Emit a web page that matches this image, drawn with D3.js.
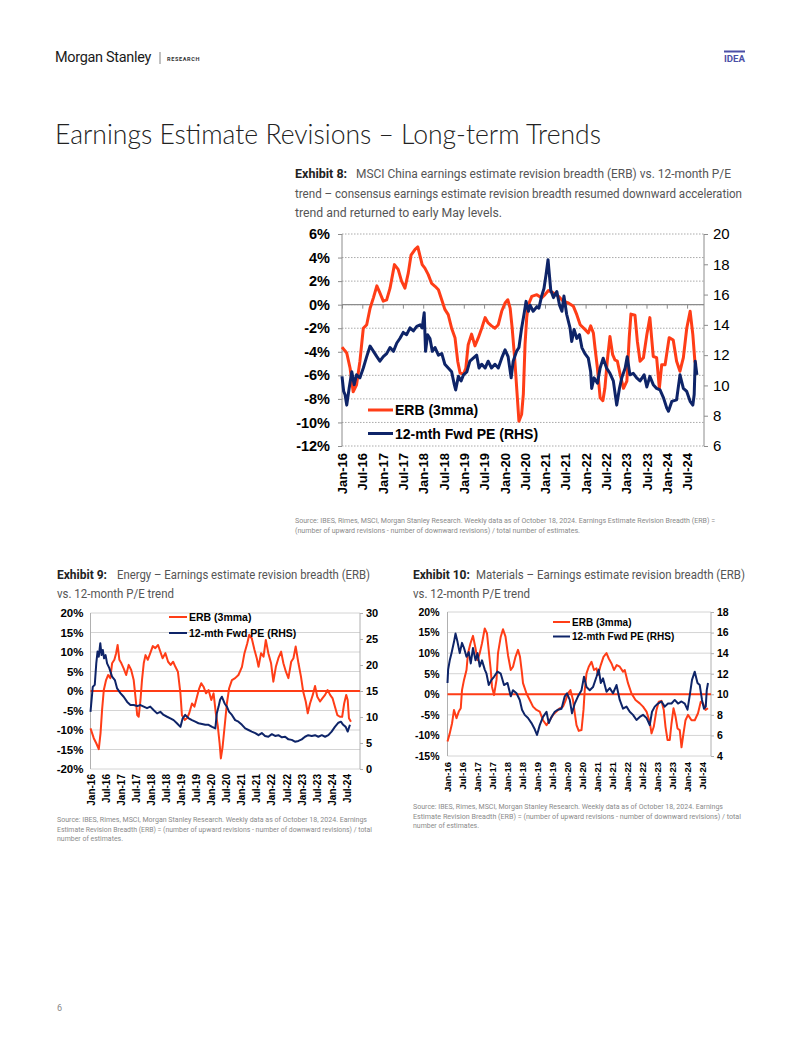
<!DOCTYPE html>
<html><head><meta charset="utf-8">
<script src="https://cdn.jsdelivr.net/npm/d3@7"></script>
<style>
html,body{margin:0;padding:0;background:#fff;}
svg{display:block;}
</style></head><body>
<svg id="page" width="802" height="1037"></svg>
<script>
// ---------- DATA (x = months since Jan-2016, y = value) ----------
const xLabels = ["Jan-16","Jul-16","Jan-17","Jul-17","Jan-18","Jul-18","Jan-19","Jul-19","Jan-20","Jul-20","Jan-21","Jul-21","Jan-22","Jul-22","Jan-23","Jul-23","Jan-24","Jul-24"];
const xLabelMonths = [0,6,12,18,24,30,36,42,48,54,60,66,72,78,84,90,96,102];

// Exhibit 8: MSCI China
const erbChina = [[0,-3.6],[1.4,-4.1],[2.4,-5.4],[3.3,-7.4],[4.3,-6.8],[5.3,-4.8],[6.3,-2.0],[7.3,-1.7],[8.3,-0.3],[9.3,0.6],[10.3,1.6],[11.2,1.0],[12.2,0.3],[13.2,0.4],[14.2,1.4],[15.5,3.4],[16.6,3.0],[17.6,2.0],[18.6,1.4],[19.6,2.7],[20.4,4.2],[21.6,4.7],[22.4,4.9],[23,4.2],[23.7,3.4],[24.5,3.1],[25.5,2.55],[26.5,1.8],[27.5,1.56],[28.5,1.27],[29.5,0.4],[30.4,-0.4],[31.4,-0.85],[32.4,-2.0],[33.4,-2.8],[34.2,-4.8],[34.9,-5.8],[35.9,-5.9],[36.6,-5.4],[37.3,-3.4],[38.3,-2.5],[39.3,-3.5],[40.3,-2.8],[41.3,-2.0],[42.3,-1.1],[43.2,-1.55],[44.2,-1.8],[45.2,-2.0],[46.2,-1.7],[47.2,-0.56],[48.2,0.14],[49,0.42],[49.7,-0.3],[50.3,-2.0],[51.1,-4.8],[51.9,-8.2],[52.3,-9.9],[53.1,-9.3],[53.6,-7.6],[54.1,-3.4],[54.6,-1.1],[55.1,0.0],[56.1,0.7],[57.6,0.85],[59,0.57],[60,0.85],[61,1.2],[62.5,1.0],[64,0.7],[65.4,0.29],[66.9,0.14],[68.4,-0.14],[69.4,-0.85],[70.4,-1.7],[71.8,-2.1],[72.8,-2.4],[73.5,-1.8],[74.3,-2.4],[74.8,-3.7],[75.5,-5.4],[76.3,-7.9],[77.1,-8.15],[77.7,-7.1],[78.4,-4.8],[79.2,-2.7],[80,-4.25],[80.7,-4.7],[81.4,-4.8],[82.2,-5.9],[83.2,-7.1],[84.2,-6.5],[84.9,-2.8],[85.4,-0.8],[86.6,-0.9],[87.3,-3.1],[88.1,-4.8],[89.1,-4.5],[90.1,-2.55],[91,-1.1],[92,-4.4],[93,-4.5],[93.8,-7.1],[94.5,-5.1],[95.5,-5.1],[96.7,-2.8],[97.9,-3.0],[98.9,-4.8],[99.9,-5.65],[100.9,-4.5],[101.9,-2.0],[102.9,-0.56],[103.7,-2.55],[104.3,-4.8],[104.6,-5.1]];
const peChina = [[0,10.6],[0.5,9.6],[0.9,9.4],[1.4,8.7],[2.1,9.8],[2.9,10.9],[3.6,10.05],[4.3,10.7],[5.3,10.5],[6.3,11.15],[7.3,11.9],[8.3,12.6],[9.3,12.25],[10.3,11.9],[11.2,11.6],[12.2,11.9],[13.2,12.1],[14.2,12.5],[15.2,12.25],[16.2,12.8],[17.1,13.1],[18.1,13.5],[19.1,13.35],[20.1,13.8],[21.1,13.6],[22.1,13.9],[23.1,14.0],[23.7,13.8],[24.3,14.8],[24.7,12.25],[25.3,13.35],[26,13.1],[26.7,12.25],[27.5,12.5],[28.5,12.0],[29.5,12.1],[30.4,11.4],[31.4,11.15],[32.4,10.9],[33.2,10.05],[33.6,9.7],[34.4,10.6],[35.2,10.3],[35.9,10.7],[36.9,10.9],[37.8,11.6],[38.8,11.8],[39.8,12.0],[40.5,11.15],[41.3,11.4],[42.3,11.15],[43.2,11.6],[44.2,11.15],[45.2,11.4],[46.2,11.15],[47.2,11.8],[48.2,12.35],[49.1,11.9],[50,10.5],[50.6,11.6],[51.6,12.25],[52.3,12.5],[53.1,13.8],[53.8,14.7],[54.4,15.55],[55.1,14.9],[55.6,15.3],[56.5,14.9],[57.6,15.2],[58.2,15.1],[59,15.9],[59.7,16.4],[60.3,17.3],[60.9,18.3],[61.3,17.3],[61.7,16.3],[62.5,15.8],[63.5,16.2],[64.3,15.3],[65,14.9],[65.6,15.9],[66.4,14.7],[67.4,13.8],[67.9,12.9],[68.6,13.7],[69.4,13.1],[70.2,13.35],[70.9,12.5],[71.8,12.1],[72.8,11.8],[73.5,10.9],[73.8,9.8],[74.5,10.5],[75.5,10.15],[76.3,11.15],[77.2,11.8],[78.2,11.15],[79.2,10.8],[80.2,10.3],[81.2,8.7],[82,9.8],[82.7,10.5],[83.7,11.15],[84.3,11.9],[85.1,10.7],[86.1,10.8],[87.1,10.5],[88.1,10.3],[89.3,10.7],[90.1,9.9],[91,10.6],[92,10.05],[93,9.8],[94,9.7],[95,9.2],[96,8.5],[96.5,8.3],[97.5,8.95],[98.9,9.05],[99.9,10.7],[100.9,9.8],[101.9,9.6],[102.9,8.95],[103.7,8.7],[104.1,9.4],[104.4,11.6],[104.9,10.7]];

// Exhibit 9: Energy
const erbEnergy = [[0,-9.6],[1.3,-12.1],[2.3,-13.4],[3.3,-14.9],[4.0,-10.8],[4.6,-4.9],[5.3,0.25],[6.2,2.8],[7.0,4.1],[7.9,3.3],[8.6,7.1],[9.5,8.0],[10.2,9.7],[10.8,11.8],[11.5,8.0],[12.3,7.1],[13.2,5.8],[14.2,4.1],[15.2,6.7],[16.2,5.4],[17.2,2.8],[17.9,-1.5],[18.6,-6.2],[19.2,-6.6],[19.9,-2.3],[20.5,2.8],[21.2,7.1],[21.9,9.2],[22.8,8.0],[23.8,9.7],[24.8,11.5],[25.8,11.0],[26.9,11.8],[27.8,10.1],[28.7,8.4],[29.8,9.7],[30.9,7.5],[31.9,6.7],[32.9,7.5],[33.8,6.2],[34.8,4.95],[35.8,-0.6],[36.4,-6.2],[37.5,-7.4],[38.4,-7.0],[39.3,-5.7],[40.4,-3.2],[41.4,-4.0],[42.4,-1.5],[43.3,0.7],[44.1,2.0],[45.0,1.1],[46.0,-0.6],[47.0,0.25],[48.1,-2.3],[49.0,-0.6],[49.9,-5.7],[50.7,-9.1],[51.4,-13.4],[51.9,-17.3],[52.6,-14.3],[53.4,-9.1],[54.3,-3.2],[55.2,0.7],[56.3,2.8],[57.6,3.3],[58.9,4.1],[60.3,6.2],[61.3,9.7],[62.4,12.2],[63.2,14.4],[64.2,13.5],[65.3,10.5],[66.2,8.4],[66.9,6.2],[67.9,9.7],[68.9,8.8],[69.8,13.1],[70.8,9.7],[71.9,7.1],[72.8,2.4],[73.8,6.2],[74.8,8.4],[75.9,10.1],[76.8,7.1],[77.8,4.95],[78.8,3.3],[79.9,7.5],[80.8,8.4],[81.7,11.4],[82.8,7.1],[83.8,3.7],[84.7,-0.2],[85.7,-2.7],[86.5,-5.7],[87.4,-3.2],[88.5,-1.0],[89.4,1.3],[90.3,-1.5],[91.4,-2.7],[92.3,-1.9],[93.4,-1.0],[94.4,0.25],[95.4,-1.0],[96.4,-1.9],[97.3,-4.0],[98.3,-6.2],[99.3,-6.6],[100.2,-6.6],[101.0,-3.2],[101.8,-1.0],[102.4,-2.3],[102.9,-7.0],[103.7,-7.9]];
const peEnergy = [[0,11.0],[0.9,15.8],[1.7,16.2],[2.3,20.3],[2.8,22.6],[3.3,21.6],[3.9,24.2],[4.4,21.9],[4.9,22.9],[5.4,21.3],[6.0,21.9],[6.6,20.3],[7.5,19.4],[8.6,17.75],[9.7,17.1],[10.6,15.5],[11.9,14.6],[13.2,13.9],[14.6,12.9],[15.9,12.3],[17.2,12.3],[18.6,12.1],[19.9,12.3],[21.2,12.0],[22.5,11.7],[23.8,12.0],[25.1,11.35],[26.5,10.7],[27.8,11.0],[29.1,10.4],[30.5,10.05],[31.8,9.75],[33.1,9.4],[34.4,8.8],[35.8,8.1],[36.7,9.75],[37.7,10.4],[39.1,9.75],[40.4,9.4],[41.7,9.1],[43.0,8.8],[44.4,8.65],[45.7,8.5],[47.0,8.5],[48.4,8.1],[49.7,7.8],[50.3,10.7],[51.0,12.0],[51.6,13.3],[52.3,13.9],[53.4,12.6],[54.3,12.0],[55.2,11.0],[56.3,10.4],[57.6,9.4],[58.9,9.1],[60.3,8.5],[61.6,7.8],[62.9,7.5],[64.2,7.2],[65.6,6.9],[66.9,6.5],[68.2,6.9],[69.5,6.35],[70.8,6.2],[72.2,6.7],[73.5,6.35],[74.8,6.5],[76.2,6.1],[77.5,6.2],[78.8,5.7],[80.1,5.6],[81.4,5.25],[82.8,5.4],[84.1,5.7],[85.4,6.2],[86.7,6.5],[88.1,6.35],[89.4,6.5],[90.7,6.2],[92.1,6.5],[93.4,6.2],[94.7,6.5],[96.0,7.2],[97.3,8.1],[98.7,8.9],[99.7,9.1],[100.6,8.5],[101.6,8.1],[102.4,7.2],[103.3,8.5]];

// Exhibit 10: Materials
const erbMaterials = [[0,-11.5],[0.9,-9.5],[1.8,-7.1],[2.6,-3.8],[3.6,-5.8],[4.5,-4.2],[5.3,-3.4],[5.8,1.0],[6.6,3.5],[7.6,5.9],[8.2,10.0],[9.2,12.4],[10.2,14.2],[11.2,11.2],[12.0,8.3],[12.9,10.0],[13.8,12.4],[14.9,16.0],[15.8,14.8],[16.6,10.0],[17.3,5.9],[17.8,1.8],[18.6,-0.2],[19.6,3.5],[20.2,10.0],[21.3,14.0],[22.2,15.8],[23.2,14.0],[24.2,9.5],[25.3,5.9],[26.2,6.7],[27.2,9.1],[28.2,10.8],[29.0,9.1],[29.8,5.1],[30.2,2.7],[31.6,0.2],[32.9,-1.4],[34.2,-3.0],[35.6,-3.8],[36.9,-4.2],[38.2,-6.3],[39.6,-7.5],[40.9,-6.3],[42.2,-5.0],[43.6,-4.2],[44.9,-3.4],[46.2,-3.0],[47.3,-1.4],[48.2,0.2],[49.2,1.0],[50.2,-1.4],[50.9,-4.6],[51.6,-7.5],[52.5,-8.9],[53.6,-8.7],[54.4,-3.8],[54.9,1.0],[55.6,5.1],[56.5,6.7],[57.6,7.9],[58.6,5.9],[59.6,6.3],[60.2,4.7],[61.3,7.1],[62.4,9.1],[63.6,10.0],[64.5,8.7],[65.6,7.5],[66.6,5.9],[67.7,7.1],[68.9,6.7],[70.2,5.5],[70.9,5.9],[72.2,2.7],[73.6,0.2],[75.2,-1.4],[76.9,-2.2],[78.2,-3.0],[79.6,-4.2],[80.9,-6.7],[81.6,-9.5],[82.5,-7.9],[83.6,-3.8],[84.5,-1.8],[85.6,-1.6],[86.5,-3.8],[87.2,-7.9],[88.0,-11.1],[88.9,-11.1],[89.6,-7.1],[90.4,-3.4],[91.2,-5.4],[92.0,-8.3],[92.9,-8.7],[93.6,-12.9],[94.4,-9.5],[95.2,-6.3],[96.2,-5.0],[97.6,-6.3],[98.9,-6.3],[100.2,-4.6],[101.3,-1.8],[102.2,-2.2],[103.2,-3.8],[104.2,-3.4]];
const peMaterials = [[0,11.1],[0.25,12.4],[0.9,13.3],[1.6,14.0],[2.6,15.1],[3.2,15.9],[4.0,15.1],[4.9,14.0],[5.8,15.0],[6.6,14.5],[7.6,13.65],[8.5,14.1],[9.3,13.0],[10.2,14.5],[11.2,13.3],[12.0,14.0],[12.9,12.7],[13.8,13.3],[14.9,12.4],[15.6,12.0],[16.5,10.9],[17.6,11.4],[18.6,11.7],[20.0,12.2],[21.3,12.0],[22.6,10.9],[24.0,11.1],[25.3,9.8],[26.2,10.4],[27.6,10.1],[28.9,9.45],[29.8,8.5],[30.9,8.0],[32.2,7.7],[33.6,7.2],[34.9,6.6],[35.8,6.05],[36.9,7.0],[38.2,7.8],[39.6,8.3],[40.5,7.2],[41.6,7.8],[42.9,8.3],[44.2,8.5],[45.6,8.6],[46.9,9.8],[47.8,10.1],[48.9,9.45],[49.8,8.15],[50.9,9.1],[52.2,9.8],[53.6,10.4],[54.6,11.7],[55.6,10.7],[56.9,10.4],[58.2,10.7],[59.6,11.7],[60.5,12.4],[61.3,11.1],[62.2,11.55],[63.6,10.25],[64.9,10.6],[66.2,10.1],[67.6,10.9],[68.9,9.45],[70.2,8.6],[71.6,8.8],[72.9,8.3],[74.2,8.0],[75.6,7.5],[76.9,7.8],[78.2,8.0],[79.6,7.7],[80.9,7.0],[81.8,8.3],[82.9,8.8],[84.2,9.1],[85.6,9.3],[86.9,8.8],[88.2,9.1],[89.6,9.1],[90.9,9.45],[92.2,9.1],[93.6,9.3],[94.9,9.1],[96.0,8.5],[96.9,9.9],[97.8,11.4],[98.9,12.2],[100.0,11.1],[100.9,10.9],[101.8,9.45],[102.6,8.6],[103.3,8.8],[103.7,10.4],[104.2,11.1]];

const seriesNames = ["ERB (3mma)", "12-mth Fwd PE (RHS)"];
const chinaLeftTicks = [-12,-10,-8,-6,-4,-2,0,2,4,6];
const chinaRightTicks = [6,8,10,12,14,16,18,20];
const energyLeftTicks = [-20,-15,-10,-5,0,5,10,15,20];
const energyRightTicks = [0,5,10,15,20,25,30];
const materialsLeftTicks = [-15,-10,-5,0,5,10,15,20];
const materialsRightTicks = [4,6,8,10,12,14,16,18];

// ---------- STYLE ----------
const RED = "#ff3d17", NAVY = "#0e2468";
const ARIAL = "'Liberation Sans', Arial, sans-serif";
const BODY = "Roboto, 'Noto Sans', sans-serif";

const svg = d3.select("#page");
svg.append("rect").attr("width",802).attr("height",1037).attr("fill","#fff");

function txt(x, y, s, o) {
  const t = svg.append("text").attr("x", x).attr("y", y).text(s)
    .attr("font-family", o.family || BODY).attr("font-size", o.size)
    .attr("fill", o.fill || "#222");
  if (o.weight) t.attr("font-weight", o.weight);
  if (o.anchor) t.attr("text-anchor", o.anchor);
  if (o.ls) t.attr("letter-spacing", o.ls);
  if (o.len) t.attr("textLength", o.len).attr("lengthAdjust", "spacingAndGlyphs");
  return t;
}

// ---------- HEADER ----------
txt(55, 62, "Morgan Stanley", {size: 14.5, fill: "#1a1a1a", ls: -0.3, len: 96});
svg.append("line").attr("x1",160).attr("x2",160).attr("y1",52).attr("y2",64).attr("stroke","#666").attr("stroke-width",0.8);
txt(167, 61, "RESEARCH", {size: 5.6, weight: 700, fill: "#333", ls: 0.6});
svg.append("rect").attr("x",724).attr("y",50.5).attr("width",21).attr("height",2).attr("fill","#4b4fa6");
txt(724, 62, "IDEA", {size: 8.5, weight: 700, fill: "#4b4fa6", len: 21});
txt(55, 144, "Earnings Estimate Revisions – Long-term Trends", {size: 27, weight: 300, fill: "#222", family: "Lato, 'Open Sans', sans-serif", len: 546});

// ---------- CAPTIONS ----------
txt(295, 178, "Exhibit 8:", {size: 12.5, weight: 700, fill: "#222"});
txt(356, 178, "MSCI China earnings estimate revision breadth (ERB) vs. 12-month P/E", {size: 12.5, fill: "#555", len: 375});
txt(295, 197.5, "trend – consensus earnings estimate revision breadth resumed downward acceleration", {size: 12.5, fill: "#555", len: 447});
txt(295, 216.5, "trend and returned to early May levels.", {size: 12.5, fill: "#555", len: 207});

txt(57, 579, "Exhibit 9:", {size: 12, weight: 700, fill: "#222"});
txt(117, 579, "Energy – Earnings estimate revision breadth (ERB)", {size: 12, fill: "#555", len: 253});
txt(57, 597.5, "vs. 12-month P/E trend", {size: 12, fill: "#555", len: 117});

txt(413, 579, "Exhibit 10:", {size: 12, weight: 700, fill: "#222"});
txt(476, 579, "Materials – Earnings estimate revision breadth (ERB)", {size: 12, fill: "#555", len: 269});
txt(413, 597.5, "vs. 12-month P/E trend", {size: 12, fill: "#555", len: 117});

// ---------- SOURCES ----------
const srcStyle = {size: 7, fill: "#8a8a8a"};
txt(295, 523, "Source: IBES, Rimes, MSCI, Morgan Stanley Research. Weekly data as of October 18, 2024. Earnings Estimate Revision Breadth (ERB) =", Object.assign({len: 420}, srcStyle));
txt(295, 532.5, "(number of upward revisions - number of downward revisions) / total number of estimates.", Object.assign({len: 285}, srcStyle));
txt(57, 822, "Source: IBES, Rimes, MSCI, Morgan Stanley Research. Weekly data as of October 18, 2024. Earnings", Object.assign({len: 310}, srcStyle));
txt(57, 831.5, "Estimate Revision Breadth (ERB) = (number of upward revisions - number of downward revisions) / total", Object.assign({len: 315}, srcStyle));
txt(57, 841, "number of estimates.", Object.assign({len: 66}, srcStyle));
txt(413, 809, "Source: IBES, Rimes, MSCI, Morgan Stanley Research. Weekly data as of October 18, 2024. Earnings", Object.assign({len: 310}, srcStyle));
txt(413, 818.5, "Estimate Revision Breadth (ERB) = (number of upward revisions - number of downward revisions) / total", Object.assign({len: 328}, srcStyle));
txt(413, 828, "number of estimates.", Object.assign({len: 66}, srcStyle));

txt(57, 1011, "6", {size: 9, fill: "#888"});

// ---------- CHART ----------
function drawChart(o, erb, pe, leftTicks, rightTicks) {
  const g = svg.append("g");
  const x = d3.scaleLinear().domain([0, o.maxMonth]).range([o.x0, o.x1]);
  const yL = d3.scaleLinear().domain([leftTicks[0], leftTicks[leftTicks.length-1]]).range([o.y1, o.y0]);
  const yR = d3.scaleLinear().domain([rightTicks[0], rightTicks[rightTicks.length-1]]).range([o.y1, o.y0]);

  // grid
  g.append("g").selectAll("line").data(leftTicks).join("line")
    .attr("x1", o.x0).attr("x2", o.x1)
    .attr("y1", d => yL(d)).attr("y2", d => yL(d))
    .attr("stroke", o.gridColor).attr("stroke-width", o.gridWidth)
    .attr("stroke-dasharray", o.gridDash);

  // left axis
  const la = g.append("g").attr("transform", `translate(${o.x0},0)`)
    .call(d3.axisLeft(yL).tickValues(leftTicks).tickFormat(d => d + "%").tickSize(o.lTick).tickPadding(o.lPad));
  la.select(".domain").attr("stroke", o.axisColor).attr("d", `M0,${o.y0}V${o.y1}`);
  la.selectAll(".tick line").attr("stroke", o.axisColor);
  la.selectAll("text").attr("font-family", ARIAL).attr("font-size", o.lSize).attr("font-weight", 700).attr("fill", "#000");

  // right axis
  const ra = g.append("g").attr("transform", `translate(${o.x1},0)`)
    .call(d3.axisRight(yR).tickValues(rightTicks).tickSize(o.rTick).tickPadding(o.rPad));
  ra.select(".domain").attr("stroke", o.axisColor).attr("d", `M0,${o.y0}V${o.y1}`);
  ra.selectAll(".tick line").attr("stroke", o.axisColor);
  ra.selectAll("text").attr("font-family", ARIAL).attr("font-size", o.rSize).attr("font-weight", o.rWeight).attr("fill", "#000");

  // zero / category axis line
  if (o.zeroAxis) {
    const za = g.append("g").attr("transform", `translate(0,${yL(0)})`)
      .call(d3.axisBottom(x).tickValues(xLabelMonths).tickSize(4).tickFormat(""));
    za.select(".domain").attr("stroke", o.axisColor).attr("stroke-width", 1.2).attr("d", `M${o.x0},0H${o.x1}`);
    za.selectAll(".tick line").attr("stroke", o.axisColor);
  } else {
    g.append("line").attr("x1", o.x0).attr("x2", o.x1).attr("y1", yL(0)).attr("y2", yL(0))
      .attr("stroke", RED).attr("stroke-width", 2);
  }

  // x labels
  const xa = g.append("g").attr("transform", `translate(0,${o.xLabelY})`)
    .call(d3.axisBottom(x).tickValues(xLabelMonths).tickFormat((d, i) => xLabels[i]).tickSize(0));
  xa.select(".domain").remove();
  xa.selectAll("text").attr("transform", "rotate(-90)").attr("text-anchor", "end")
    .attr("x", 0).attr("y", 0).attr("dy", "0.36em")
    .attr("font-family", ARIAL).attr("font-size", o.xSize).attr("font-weight", 700).attr("fill", "#000");

  // lines
  const lineL = d3.line().x(d => x(d[0])).y(d => yL(d[1]));
  const lineR = d3.line().x(d => x(d[0])).y(d => yR(d[1]));
  g.append("path").datum(erb).attr("d", lineL).attr("fill", "none").attr("stroke", RED)
    .attr("stroke-width", o.lw).attr("stroke-linejoin", "round");
  g.append("path").datum(pe).attr("d", lineR).attr("fill", "none").attr("stroke", NAVY)
    .attr("stroke-width", o.lw).attr("stroke-linejoin", "round");

  // legend
  [RED, NAVY].forEach((c, i) => {
    const yy = o.legY + i * o.legGap;
    g.append("line").attr("x1", o.legX).attr("x2", o.legX + o.legLen).attr("y1", yy).attr("y2", yy)
      .attr("stroke", c).attr("stroke-width", o.lw);
    g.append("text").attr("x", o.legX + o.legLen + 2).attr("y", yy).attr("dy", "0.36em")
      .text(seriesNames[i]).attr("font-family", ARIAL).attr("font-size", o.legSize)
      .attr("font-weight", 700).attr("fill", "#000");
  });
}

drawChart({x0: 342, x1: 704, maxMonth: 107, y0: 234, y1: 446,
  gridColor: "#aaa", gridWidth: 1, gridDash: "1.5,1.5", axisColor: "#8c8c8c",
  lTick: 4, lPad: 8, lSize: 14.5, rTick: 4, rPad: 5, rSize: 15, rWeight: 400,
  zeroAxis: true, xLabelY: 453, xSize: 13, lw: 3,
  legX: 368, legY: 410, legGap: 23.5, legLen: 25, legSize: 14}, erbChina, peChina, chinaLeftTicks, chinaRightTicks);

drawChart({x0: 90.5, x1: 360, maxMonth: 107.3, y0: 613, y1: 769,
  gridColor: "#d4d4d4", gridWidth: 1, gridDash: null, axisColor: "#b0b0b0",
  lTick: 0, lPad: 7, lSize: 11.5, rTick: 3, rPad: 3, rSize: 11, rWeight: 700,
  zeroAxis: false, xLabelY: 774, xSize: 10, lw: 2,
  legX: 169, legY: 617, legGap: 16, legLen: 18, legSize: 10.5}, erbEnergy, peEnergy, energyLeftTicks, energyRightTicks);

drawChart({x0: 447.5, x1: 711, maxMonth: 105.4, y0: 612, y1: 756,
  gridColor: "#d4d4d4", gridWidth: 1, gridDash: null, axisColor: "#b0b0b0",
  lTick: 0, lPad: 8, lSize: 10.5, rTick: 3, rPad: 3, rSize: 10.5, rWeight: 700,
  zeroAxis: false, xLabelY: 762, xSize: 9.5, lw: 2,
  legX: 553, legY: 622, legGap: 14.5, legLen: 17, legSize: 10}, erbMaterials, peMaterials, materialsLeftTicks, materialsRightTicks);
</script></body></html>
